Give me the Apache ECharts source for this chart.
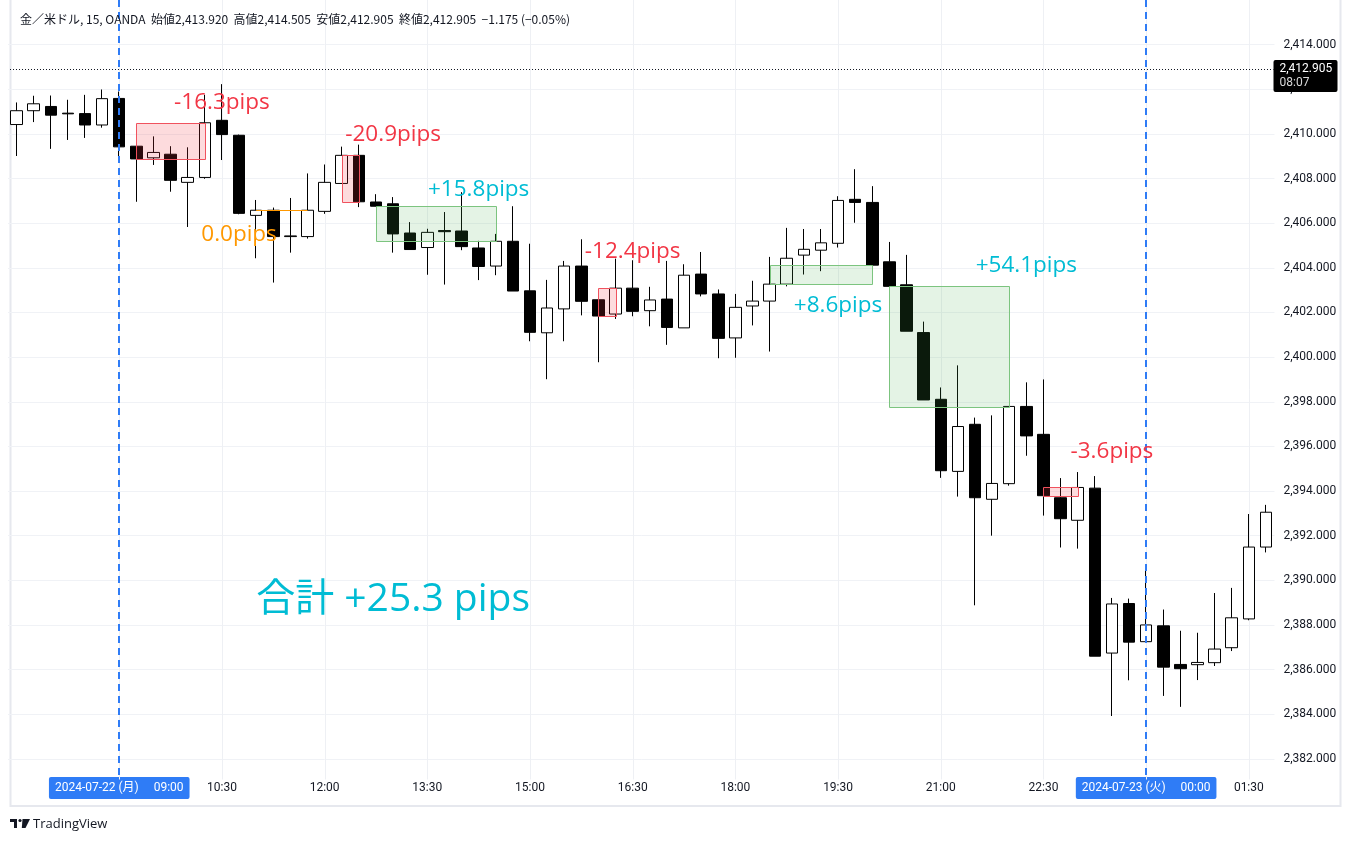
<!DOCTYPE html>
<html><head><meta charset="utf-8">
<script src="https://cdn.jsdelivr.net/npm/echarts@6/dist/echarts.min.js"></script>
<style>html,body{margin:0;padding:0;background:#fff}#c{width:1351px;height:843px}</style>
</head><body><div id="c"></div>
<script>
// ---------- data ----------
const times = ['07:30','07:45','08:00','08:15','08:30','08:45','09:00','09:15','09:30','09:45',
  '10:00','10:15','10:30','10:45','11:00','11:15','11:30','11:45','12:00','12:15',
  '12:30','12:45','13:00','13:15','13:30','13:45','14:00','14:15','14:30','14:45',
  '15:00','15:15','15:30','15:45','16:00','16:15','16:30','16:45','17:00','17:15',
  '17:30','17:45','18:00','18:15','18:30','18:45','19:00','19:15','19:30','19:45',
  '20:00','20:15','20:30','20:45','21:00','21:15','21:30','21:45','22:00','22:15',
  '22:30','22:45','23:00','23:15','23:30','23:45','00:00','00:15','00:30','00:45',
  '01:00','01:15','01:30','01:45'];
const open = [2410.42,2411.04,2411.23,2410.93,2410.91,2410.40,2411.59,2409.45,2408.93,2409.09,
  2407.83,2408.05,2410.61,2409.94,2406.35,2406.58,2405.40,2405.40,2406.53,2407.78,
  2409.04,2406.95,2406.87,2405.56,2404.91,2405.67,2405.65,2404.89,2404.08,2405.19,
  2402.97,2401.09,2402.16,2404.08,2402.57,2401.93,2403.09,2402.08,2402.60,2401.31,
  2403.72,2402.83,2400.86,2402.29,2402.51,2403.27,2404.57,2404.79,2405.10,2407.07,
  2406.93,2404.27,2403.24,2401.10,2398.11,2394.88,2396.99,2393.63,2394.33,2397.79,
  2396.54,2393.70,2392.69,2394.13,2386.74,2388.96,2387.25,2387.96,2386.23,2386.22,
  2386.31,2386.98,2388.27,2391.49];
const close = [2411.04,2411.35,2410.84,2410.90,2410.40,2411.58,2409.42,2408.88,2409.17,2407.92,
  2408.05,2410.50,2409.97,2406.44,2406.58,2405.40,2405.43,2406.58,2407.83,2409.04,
  2406.96,2406.76,2405.52,2404.82,2405.59,2405.62,2404.95,2404.06,2405.19,2402.96,
  2401.11,2402.20,2404.08,2402.50,2401.84,2403.09,2402.05,2402.56,2401.33,2403.67,
  2402.83,2400.84,2402.23,2402.51,2403.27,2404.43,2404.83,2405.12,2407.02,2406.93,
  2404.12,2403.17,2401.16,2398.08,2394.91,2396.89,2393.70,2394.34,2397.79,2396.47,
  2393.79,2392.76,2394.16,2386.60,2388.94,2387.23,2388.00,2386.11,2386.04,2386.32,
  2386.92,2388.32,2391.49,2393.05];
const low = [2409.01,2410.53,2409.33,2409.73,2409.82,2410.28,2408.83,2406.96,2408.61,2407.41,
  2405.83,2407.99,2408.83,2406.40,2404.43,2403.34,2404.68,2405.31,2406.42,2407.78,
  2406.72,2406.76,2404.68,2404.82,2403.69,2403.25,2404.79,2403.45,2403.67,2402.96,
  2400.71,2399.01,2400.71,2401.87,2399.77,2401.71,2401.83,2401.38,2400.55,2401.31,
  2402.72,2399.95,2399.97,2401.42,2400.25,2403.17,2403.70,2403.85,2404.91,2406.02,
  2404.12,2403.17,2401.16,2398.08,2394.59,2393.75,2388.88,2392.00,2394.24,2395.58,
  2392.90,2391.47,2391.42,2386.60,2383.92,2385.52,2387.25,2384.82,2384.33,2385.53,
  2386.16,2386.83,2388.21,2391.25];
const high = [2411.41,2411.71,2411.72,2411.53,2411.75,2411.99,2411.90,2409.48,2409.89,2409.45,
  2409.40,2411.75,2412.23,2409.97,2407.04,2406.70,2407.13,2408.23,2408.63,2409.43,
  2409.52,2407.30,2407.17,2406.05,2405.75,2406.50,2407.39,2405.21,2405.52,2406.76,
  2405.08,2403.46,2404.31,2405.28,2402.60,2404.41,2404.34,2403.15,2404.31,2404.16,
  2404.71,2403.03,2402.83,2403.42,2404.49,2405.79,2405.74,2405.74,2407.21,2408.42,
  2407.66,2405.16,2404.58,2401.59,2398.64,2399.63,2397.29,2397.39,2397.79,2398.87,
  2399.00,2394.58,2394.85,2394.67,2389.21,2389.18,2390.55,2388.69,2387.74,2387.65,
  2389.43,2389.66,2392.97,2393.38];

const tickIdx  = [6,12,18,24,30,36,42,48,54,60,66,72];
const tickText = ['2024-07-22 (月)     09:00','10:30','12:00','13:30','15:00','16:30',
                  '18:00','19:30','21:00','22:30','2024-07-23 (火)     00:00','01:30'];
const sessionIdx = [6,66];
const priceMin = 2380, priceMax = 2416, priceStep = 2;

// trade boxes: [startIdx, endIdx, topPrice, bottomPrice]
const lossBoxes = [[7,11,2410.50,2408.88],[19,20,2409.04,2406.96],[34,35,2403.09,2401.84],[60,62,2394.16,2393.79]];
const winBoxes  = [[21,28,2406.75,2405.19],[44,50,2404.12,2403.29],[51,58,2403.18,2397.78]];
const flatLines = [[14,17.3,2406.58]];
// annotations: [idx, price, text]
const lossNotes = [[12.04,2411.41,'-16.3pips'],[22.25,2409.97,'-20.9pips'],[36.12,2404.74,'-12.4pips'],[63.65,2395.75,'-3.6pips']];
const winNotes  = [[27.4,2407.52,'+15.8pips'],[47.9,2402.33,'+8.6pips'],[59.4,2404.12,'+54.1pips']];
const flatNotes = [[12.6,2405.50,'0.0pips']];
const totalNote = [[21.55,2389.13,'合計 +25.3 pips']];
const lastPrice = [[2412.905,'2,412.905','08:07']];
const headerText = '金／米ドル, 15, OANDA  始値2,413.920  高値2,414.505  安値2,412.905  終値2,412.905  −1.175 (−0.05%)';

// ---------- chart ----------
const candles = open.map((o,i)=>[o, close[i], low[i], high[i]]);
const BLUE = '#2f7cf6', RED = '#f23645', CYAN = '#00bcd4', ORANGE = '#ff9800', INK = '#131722';
const chart = echarts.init(document.getElementById('c'), null, {renderer:'canvas'});

function vline(color, width, dash, bottomPad){
  return function(params, api){
    const x = Math.round(api.coord([api.value(0), priceMin])[0]) + (width % 2 ? 0.5 : 0);
    const cs = params.coordSys;
    return {type:'line', shape:{x1:x, y1:0, x2:x, y2:cs.y + cs.height - bottomPad},
      style:{stroke:color, lineWidth:width, lineDash:dash}};
  };
}
function boxItem(fill, stroke){
  return function(params, api){
    const p0 = api.coord([api.value(0), api.value(2)]);
    const p1 = api.coord([api.value(1), api.value(3)]);
    const x = Math.round(p0[0]) + 0.5, y = Math.round(p0[1]) + 0.5;
    return {type:'rect', shape:{x:x, y:y, width:Math.round(p1[0]) - Math.round(p0[0]), height:Math.round(p1[1]) - Math.round(p0[1])},
      style:{fill:fill, stroke:stroke, lineWidth:1}};
  };
}
function noteSeries(data, color, size){
  return {type:'custom', z:6, data:data, encode:{x:0, y:1}, renderItem: function(params, api){
    const p = api.coord([api.value(0), api.value(1)]);
    return {type:'text', x:p[0], y:p[1], style:{text: data[params.dataIndex][2], fill:color,
      font: size + 'px "Open Sans", "Noto Sans CJK JP", sans-serif', align:'center', verticalAlign:'middle'}};
  }};
}

const option = {
  animation:false,
  backgroundColor:'#ffffff',
  grid:{left:8, right:76.5, top:-1.4, bottom:39.5, containLabel:false},
  xAxis:{type:'category', data:times, boundaryGap:true,
    axisLine:{show:false}, axisTick:{show:false}, splitLine:{show:false},
    axisLabel:{
      margin:-22,
      interval:function(i){ return tickIdx.indexOf(i) >= 0; },
      formatter:function(v, i){
        const k = tickIdx.indexOf(i); if (k < 0) return '';
        return (sessionIdx.indexOf(i) >= 0 ? '{d|' : '{n|') + tickText[k] + '}';
      },
      rich:{
        n:{color:INK, fontSize:12, fontFamily:'Roboto, "Noto Sans CJK JP", sans-serif', padding:[5,6], lineHeight:13},
        d:{color:'#fff', fontSize:12, fontFamily:'Roboto, "Noto Sans CJK JP", sans-serif', padding:[5,6], lineHeight:13,
           backgroundColor:BLUE, borderRadius:2}
      }
    }},
  yAxis:{type:'value', position:'right', min:priceMin, max:priceMax, interval:priceStep, scale:true,
    axisLine:{show:false}, axisTick:{show:false},
    splitLine:{show:true, showMinLine:false, showMaxLine:false, lineStyle:{color:'#f0f2f6', width:1}},
    axisLabel:{showMinLabel:false, showMaxLabel:false, margin:9, color:INK, fontSize:12,
      fontFamily:'Roboto, sans-serif',
      formatter:function(v){ return v.toLocaleString('en-US',{minimumFractionDigits:3, maximumFractionDigits:3}); }}},
  series:[
    {type:'custom', z:1, data:tickIdx.map(i=>[i]), encode:{x:0}, renderItem:vline('#eef0f4',1,null,24)},
    {type:'candlestick', z:2, data:candles, barWidth:12,
      itemStyle:{color:'#ffffff', color0:'#000000', borderColor:'#000000', borderColor0:'#000000', borderWidth:1}},
    {type:'custom', z:3, data:lossBoxes, encode:{x:[0,1], y:[2,3]}, renderItem:boxItem('rgba(242,54,69,0.18)','#f0525e')},
    {type:'custom', z:3, data:winBoxes, encode:{x:[0,1], y:[2,3]}, renderItem:boxItem('rgba(76,175,80,0.15)','#7cc47f')},
    {type:'custom', z:3, data:flatLines, encode:{x:[0,1], y:2}, renderItem:function(params, api){
      const p0 = api.coord([api.value(0), api.value(2)]), p1 = api.coord([api.value(1), api.value(2)]);
      const y = Math.round(p0[1]) + 0.5;
      return {type:'line', shape:{x1:p0[0], y1:y, x2:p1[0], y2:y}, style:{stroke:ORANGE, lineWidth:1}};
    }},
    {type:'custom', z:4, data:sessionIdx.map(i=>[i]), encode:{x:0}, renderItem:vline(BLUE,2,[7,5],22)},
    noteSeries(lossNotes, RED, 22.5),
    noteSeries(winNotes, CYAN, 22.5),
    noteSeries(flatNotes, ORANGE, 22.5),
    noteSeries(totalNote, CYAN, 39),
    {type:'custom', z:7, data:lastPrice.map(d=>[0,d[0]]), encode:{y:1}, renderItem:function(params, api){
      const cs = params.coordSys;
      const y = Math.round(api.coord([0, api.value(1)])[1]) + 0.5;
      const bx = cs.x + cs.width - 1;
      const d = lastPrice[params.dataIndex];
      return {type:'group', children:[
        {type:'line', shape:{x1:10, y1:y, x2:bx, y2:y}, style:{stroke:INK, lineWidth:1, lineDash:[1,2]}},
        {type:'rect', shape:{x:bx, y:y-9.5, width:64, height:32, r:2}, style:{fill:'#000'}},
        {type:'text', x:bx+6, y:y-1, style:{text:d[1], fill:'#fff', font:'12px Roboto, sans-serif', verticalAlign:'middle'}},
        {type:'text', x:bx+6, y:y+13, style:{text:d[2], fill:'#d8d8d8', font:'12px Roboto, sans-serif', verticalAlign:'middle'}}
      ]};
    }}
  ],
  graphic:[
    {type:'rect', z:0, shape:{x:10.5, y:-2, width:1330, height:808}, style:{fill:null, stroke:'#e6e8ee', lineWidth:2}},
    {type:'text', z:10, x:20, y:19, style:{text:headerText, fill:INK, font:'12px "Noto Sans CJK JP", sans-serif', verticalAlign:'middle'}},
    {type:'group', z:10, children:[
      {type:'rect', shape:{x:10, y:819, width:7, height:3}, style:{fill:INK}},
      {type:'rect', shape:{x:14, y:819, width:3, height:9}, style:{fill:INK}},
      {type:'circle', shape:{cx:20, cy:820.5, r:1.6}, style:{fill:INK}},
      {type:'polygon', shape:{points:[[22.5,819],[30,819],[25.5,828],[21.8,828]]}, style:{fill:INK}},
      {type:'text', x:33, y:824.5, style:{text:'TradingView', fill:INK, font:'13px "Open Sans", sans-serif', verticalAlign:'middle'}}
    ]}
  ]
};
chart.setOption(option);
</script></body></html>
